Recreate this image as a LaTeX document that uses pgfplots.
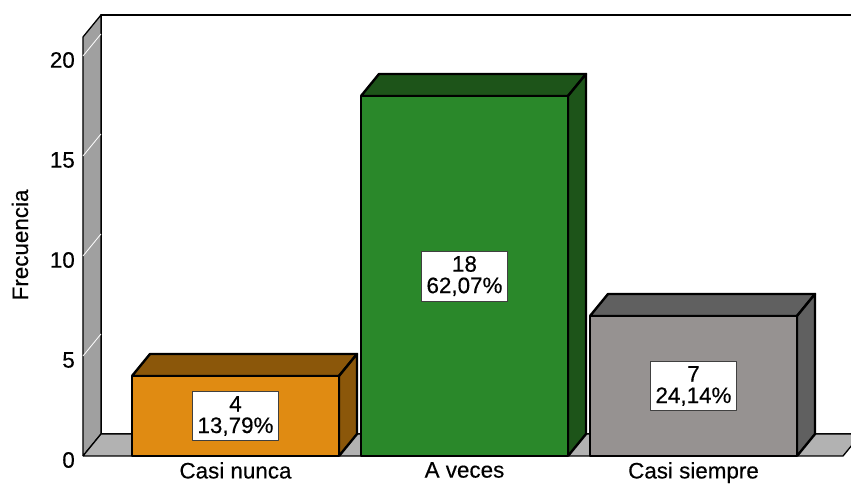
\documentclass[border=0pt]{standalone}
\usepackage{pgfplots}
\pgfplotsset{compat=1.18}
\usepackage{fontspec}
\setmainfont{Liberation Sans}
\newfontfamily\heavyfont{Liberation Sans}[FakeBold=0.35]
\definecolor{orF}{RGB}{224,139,18}
\definecolor{orD}{RGB}{139,87,10}
\definecolor{grF}{RGB}{42,136,42}
\definecolor{grD}{RGB}{29,84,25}
\definecolor{gyF}{RGB}{150,146,145}
\definecolor{gyD}{RGB}{96,96,96}
\definecolor{wall}{RGB}{160,160,160}
\definecolor{floor}{RGB}{178,178,178}
\newcommand{\lf}{\heavyfont\fontsize{22.4}{21.5}\selectfont}
\begin{document}
\begin{tikzpicture}
\begin{axis}[
  x=229pt, y=20pt,
  xmin=-1.0284, xmax=2.6878, ymin=-1.45, ymax=22.8,
  axis line style={draw=none}, tick style={draw=none},
  /pgf/number format/assume math mode=true,
  xtick={0,1,2}, xticklabels={Casi nunca, A veces, Casi siempre},
  ytick={0,5,10,15,20},
  xticklabel style={font=\lf, inner sep=0pt, yshift=23pt},
  yticklabel style={font=\lf, inner sep=0pt, xshift=75pt, yshift=-4pt},
  ylabel={Frecuencia},
  ylabel style={font=\lf, at={(axis description cs:0.0235,0.495)}, anchor=center},
  line join=round,
]
% back wall
\addplot[fill=white, draw=black, line width=1.3pt] coordinates {(-0.5874,1.1) (-0.5874,22.05) (2.9,22.05) (2.9,1.1) (-0.5874,1.1)};
% left wall
\addplot[fill=wall, draw=black, line width=1.3pt] coordinates {(-0.666,0) (-0.666,20.95) (-0.5874,22.05) (-0.5874,1.1) (-0.666,0)};
\addplot[white, line width=0.8pt, unbounded coords=jump] coordinates {(-0.666,5) (-0.5874,6.1) (nan,nan) (-0.666,10) (-0.5874,11.1) (nan,nan) (-0.666,15) (-0.5874,16.1) (nan,nan) (-0.666,20) (-0.5874,21.1)};
% floor
\addplot[fill=floor, draw=black, line width=1.3pt] coordinates {(-0.666,0) (2.653,0) (2.7316,1.1) (-0.5874,1.1) (-0.666,0)};
% bar 1: Casi nunca
\addplot[fill=orD, draw=black, line width=2.4pt] coordinates {(-0.452,4) (0.452,4) (0.5306,5.1) (-0.3734,5.1) (-0.452,4)};
\addplot[fill=orD, draw=black, line width=2.4pt] coordinates {(0.452,0) (0.452,4) (0.5306,5.1) (0.5306,1.1) (0.452,0)};
\addplot[ybar, bar shift=0pt, bar width=0.904, fill=orF, draw=black, line width=2.4pt] coordinates {(0,4)};
% bar 2: A veces
\addplot[fill=grD, draw=black, line width=2.4pt] coordinates {(0.548,18) (1.452,18) (1.5306,19.1) (0.6266,19.1) (0.548,18)};
\addplot[fill=grD, draw=black, line width=2.4pt] coordinates {(1.452,0) (1.452,18) (1.5306,19.1) (1.5306,1.1) (1.452,0)};
\addplot[ybar, bar shift=0pt, bar width=0.904, fill=grF, draw=black, line width=2.4pt] coordinates {(1,18)};
% bar 3: Casi siempre
\addplot[fill=gyD, draw=black, line width=2.4pt] coordinates {(1.548,7) (2.452,7) (2.5306,8.1) (1.6266,8.1) (1.548,7)};
\addplot[fill=gyD, draw=black, line width=2.4pt] coordinates {(2.452,0) (2.452,7) (2.5306,8.1) (2.5306,1.1) (2.452,0)};
\addplot[ybar, bar shift=0pt, bar width=0.904, fill=gyF, draw=black, line width=2.4pt] coordinates {(2,7)};
% labels
\addplot[draw=none, mark=none, point meta=explicit symbolic, nodes near coords,
  nodes near coords style={anchor=center, align=center, font=\lf, fill=white, draw=black!75, line width=0.8pt, inner xsep=5pt, inner ysep=5pt}]
  coordinates {(0,2) [4\\13,79\%] (1,9) [18\\62,07\%] (2,3.5) [7\\24,14\%]};
\end{axis}
\end{tikzpicture}
\end{document}
